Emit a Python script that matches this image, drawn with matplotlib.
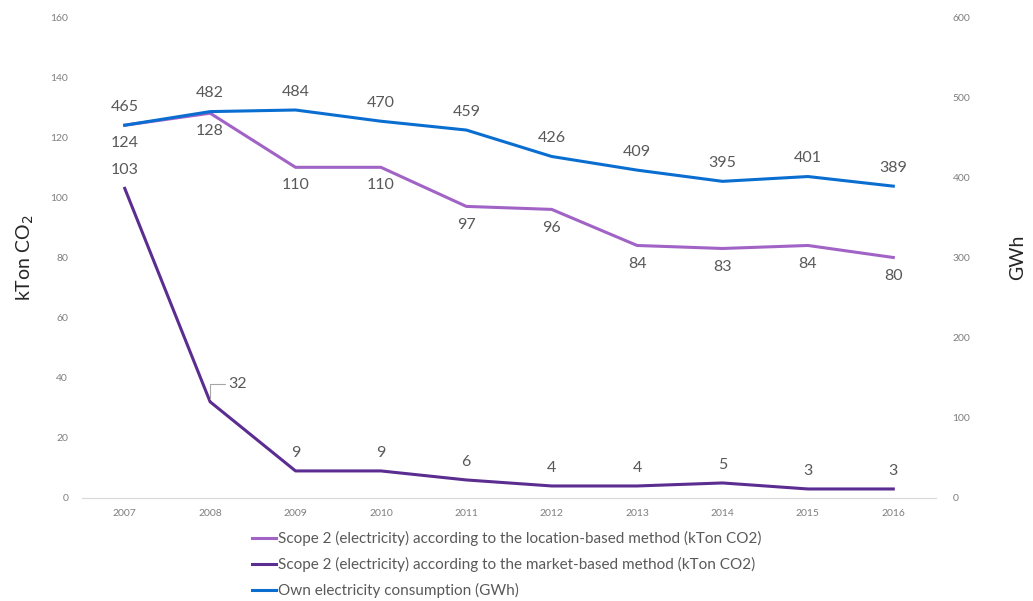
import matplotlib
matplotlib.use("Agg")
import matplotlib.pyplot as plt

plt.rcParams['font.family'] = ['Lato', 'DejaVu Sans']

years = ["2007", "2008", "2009", "2010", "2011", "2012", "2013", "2014", "2015", "2016"]
location_based = [124, 128, 110, 110, 97, 96, 84, 83, 84, 80]
market_based = [103, 32, 9, 9, 6, 4, 4, 5, 3, 3]
consumption_gwh = [465, 482, 484, 470, 459, 426, 409, 395, 401, 389]

c_loc = "#a163c6"
c_mkt = "#5c2d91"
c_blue = "#0a6ed1"
c_text = "#595959"
c_tick = "#7f7f7f"

fig = plt.figure(figsize=(10.33, 6.01), dpi=100)
ax = fig.add_axes([0.0794, 0.1714, 0.8267, 0.8003])
ax2 = ax.twinx()

x = list(range(len(years)))
l1, = ax.plot(x, location_based, color=c_loc, lw=2.2, solid_joinstyle='round')
l2, = ax.plot(x, market_based, color=c_mkt, lw=2.2, solid_joinstyle='round')
l3, = ax2.plot(x, consumption_gwh, color=c_blue, lw=2.2, solid_joinstyle='round')

ax.set_xlim(-0.5, len(years) - 0.5)
ax.set_ylim(0, 160)
ax2.set_ylim(0, 600)
ax.set_yticks(range(0, 161, 20))
ax2.set_yticks(range(0, 601, 100))
ax.set_xticks(x)
ax.set_xticklabels(years)

for a in (ax, ax2):
    for s in a.spines.values():
        s.set_visible(False)
    a.tick_params(length=0, labelsize=7.5, colors=c_tick)
ax.spines['bottom'].set_visible(True)
ax.spines['bottom'].set_color("#d9d9d9")
ax.tick_params(axis='y', pad=10)
ax2.tick_params(axis='y', pad=12)
ax.tick_params(axis='x', pad=8)

ax.set_ylabel("kTon CO$_2$", fontsize=14, color="#262626", labelpad=10)
ax2.set_ylabel("GWh", fontsize=14, color="#262626", labelpad=28)

fs = 11.5
for i, v in enumerate(consumption_gwh):
    ax2.annotate(str(v), (i, v), xytext=(0, 8), textcoords="offset points",
                 ha="center", va="bottom", fontsize=fs, color=c_text)
for i, v in enumerate(location_based):
    ax.annotate(str(v), (i, v), xytext=(0, -8), textcoords="offset points",
                ha="center", va="top", fontsize=fs, color=c_text)
for i, v in enumerate(market_based):
    if i == 1:
        ax.annotate(str(v), (i, v), xytext=(13, 13), textcoords="offset points",
                    ha="left", va="center", fontsize=fs, color=c_text,
                    arrowprops=dict(arrowstyle="-", color="#a6a6a6", lw=0.8,
                                    shrinkA=0, shrinkB=2,
                                    connectionstyle="angle,angleA=0,angleB=90,rad=0"))
    else:
        ax.annotate(str(v), (i, v), xytext=(0, 8), textcoords="offset points",
                    ha="center", va="bottom", fontsize=fs, color=c_text)

fig.legend([l1, l2, l3],
           ["Scope 2 (electricity) according to the location-based method (kTon CO2)",
            "Scope 2 (electricity) according to the market-based method (kTon CO2)",
            "Own electricity consumption (GWh)"],
           loc="upper left", bbox_to_anchor=(0.244, 0.116), frameon=False,
           fontsize=11, labelcolor=c_text, handlelength=1.6, handletextpad=0.1,
           labelspacing=0.72, borderaxespad=0, borderpad=0)

fig.savefig("out.png", dpi=100)
